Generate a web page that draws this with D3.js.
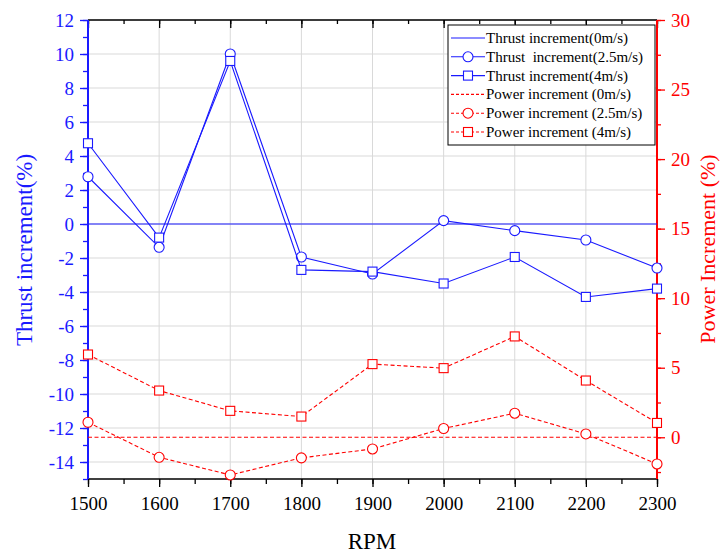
<!DOCTYPE html>
<html><head><meta charset="utf-8">
<script src="https://cdn.jsdelivr.net/npm/d3@7"></script>
<style>body{margin:0;background:#fff}svg{display:block}svg text{font-family:"Liberation Serif","Times New Roman",serif !important}</style>
</head><body>
<svg id="c" width="721" height="554" font-family="Liberation Serif"></svg>
<script>
const rpm = [1500,1600,1700,1800,1900,2000,2100,2200,2300];
const thrust0 = [0,0,0,0,0,0,0,0,0];
const thrust25 = [2.78,-1.37,10.0,-1.94,-2.94,0.2,-0.39,-0.94,-2.59];
const thrust4 = [4.75,-0.8,9.59,-2.7,-2.8,-3.5,-1.94,-4.29,-3.8];
const power0 = [0,0,0,0,0,0,0,0,0];
const power25 = [1.08,-1.44,-2.71,-1.48,-0.84,0.63,1.73,0.24,-1.92];
const power4 = [5.95,3.36,1.9,1.49,5.26,4.97,7.25,4.08,1.03];
const xTicks = [1500,1600,1700,1800,1900,2000,2100,2200,2300];
const yLTicks = [-14,-12,-10,-8,-6,-4,-2,0,2,4,6,8,10,12];
const yRTicks = [0,5,10,15,20,25,30];
const legendLabels = ["Thrust increment(0m/s)","Thrust  increment(2.5m/s)","Thrust increment(4m/s)","Power increment (0m/s)","Power increment (2.5m/s)","Power increment (4m/s)"];

const BLUE="#1a1aff", RED="#ff0000";
const FONT='"Liberation Serif","Times New Roman",serif';
const L=88, R=657, T=20, B=479;
const svg=d3.select("#c");
const x=d3.scaleLinear().domain([1500,2300]).range([L,R]);
const yL=d3.scaleLinear().domain([-15,12]).range([B,T]);
const yR=d3.scaleLinear().domain([-3,30]).range([B,T]);
const fmt=d=>String(d);

// grid
const g=svg.append("g");
g.selectAll(".vg").data(xTicks.slice(1,-1)).enter().append("line")
 .attr("x1",d=>x(d)).attr("x2",d=>x(d)).attr("y1",T).attr("y2",B)
 .attr("stroke","#d9d9d9").attr("stroke-width",1);
g.selectAll(".hg").data(yLTicks).enter().append("line")
 .attr("x1",L).attr("x2",R).attr("y1",d=>yL(d)).attr("y2",d=>yL(d))
 .attr("stroke","#d9d9d9").attr("stroke-width",1);

function styleAxis(sel,color,labels){
 sel.attr("font-family",FONT);
 sel.selectAll("line").attr("stroke",color).attr("stroke-width",1.3);
 if(labels) sel.selectAll("text").attr("font-size",19).attr("fill",color).style("font-family",FONT);
}

// axes
const minorX=d3.range(1500,2301,50);
const axBottom=svg.append("g").attr("transform",`translate(0,${B})`)
 .call(d3.axisBottom(x).tickValues(minorX).tickSize(5).tickFormat(""));
axBottom.select(".domain").remove();
styleAxis(axBottom,"#000",false);
const axBottomMaj=svg.append("g").attr("transform",`translate(0,${B})`)
 .call(d3.axisBottom(x).tickValues(xTicks).tickSize(8).tickPadding(10).tickFormat(fmt));
axBottomMaj.select(".domain").attr("stroke","#000").attr("stroke-width",1.5).attr("d",`M${L},0H${R}`);
styleAxis(axBottomMaj,"#000",true);

const axTop=svg.append("g").attr("transform",`translate(0,${T})`)
 .call(d3.axisBottom(x).tickValues(minorX).tickSize(4).tickFormat(""));
axTop.select(".domain").remove();
styleAxis(axTop,"#000",false);
const axTopMaj=svg.append("g").attr("transform",`translate(0,${T})`)
 .call(d3.axisBottom(x).tickValues(xTicks).tickSize(8).tickFormat(""));
axTopMaj.select(".domain").attr("stroke","#000").attr("stroke-width",1.5).attr("d",`M${L},0H${R}`);
styleAxis(axTopMaj,"#000",false);

const minorL=d3.range(-15,12.1,1);
const axLeft=svg.append("g").attr("transform",`translate(${L},0)`)
 .call(d3.axisLeft(yL).tickValues(minorL).tickSize(5).tickFormat(""));
axLeft.select(".domain").remove();
styleAxis(axLeft,BLUE,false);
const axLeftMaj=svg.append("g").attr("transform",`translate(${L},0)`)
 .call(d3.axisLeft(yL).tickValues(yLTicks).tickSize(8).tickPadding(6).tickFormat(fmt));
axLeftMaj.select(".domain").attr("stroke",BLUE).attr("stroke-width",2).attr("d",`M0,${T}V${B}`);
styleAxis(axLeftMaj,BLUE,true);

const minorR=d3.range(-2.5,30.1,2.5);
const axRight=svg.append("g").attr("transform",`translate(${R},0)`)
 .call(d3.axisRight(yR).tickValues(minorR).tickSize(4).tickFormat(""));
axRight.select(".domain").remove();
styleAxis(axRight,RED,false);
const axRightMaj=svg.append("g").attr("transform",`translate(${R},0)`)
 .call(d3.axisRight(yR).tickValues(yRTicks).tickSize(8).tickPadding(6).tickFormat(fmt));
axRightMaj.select(".domain").attr("stroke",RED).attr("stroke-width",2).attr("d",`M0,${T}V${B}`);
styleAxis(axRightMaj,RED,true);

// series
const series=[
 {v:thrust0,y:yL,c:BLUE,dash:null,m:null},
 {v:thrust25,y:yL,c:BLUE,dash:null,m:"circle"},
 {v:thrust4,y:yL,c:BLUE,dash:null,m:"square"},
 {v:power0,y:yR,c:RED,dash:"4,2.5",m:null},
 {v:power25,y:yR,c:RED,dash:"4,2.5",m:"circle"},
 {v:power4,y:yR,c:RED,dash:"4,2.5",m:"square"}
];
function marker(sel,m,c){
 if(m==="circle") sel.append("circle").attr("r",5).attr("fill","#fff").attr("stroke",c).attr("stroke-width",1.1);
 else if(m==="square") sel.append("rect").attr("x",-4.5).attr("y",-4.5).attr("width",9).attr("height",9).attr("fill","#fff").attr("stroke",c).attr("stroke-width",1.1);
}
series.forEach(s=>{
 const line=d3.line().x((d,i)=>x(rpm[i])).y(d=>s.y(d));
 svg.append("path").datum(s.v).attr("d",line).attr("fill","none").attr("stroke",s.c)
  .attr("stroke-width",1.1).attr("stroke-dasharray",s.dash);
 if(s.m){
  s.v.forEach((d,i)=>{
   const gg=svg.append("g").attr("transform",`translate(${x(rpm[i])},${s.y(d)})`);
   marker(gg,s.m,s.c);
  });
 }
});

// legend
const lg=svg.append("g");
lg.append("rect").attr("x",448).attr("y",25).attr("width",207).attr("height",120)
 .attr("fill","#fff").attr("stroke","#000").attr("stroke-width",1);
legendLabels.forEach((t,i)=>{
 const cy=38+i*18.8, s=series[i];
 lg.append("line").attr("x1",451).attr("x2",485).attr("y1",cy).attr("y2",cy)
  .attr("stroke",s.c).attr("stroke-width",1.1).attr("stroke-dasharray",s.dash?"3,2":null);
 const mg=lg.append("g").attr("transform",`translate(468,${cy})`);
 marker(mg,s.m,s.c);
 lg.append("text").attr("x",486).attr("y",cy+5).attr("font-size",15).attr("fill","#000")
  .attr("xml:space","preserve").style("white-space","pre").style("font-family",FONT).text(t);
});

// titles
svg.append("text").attr("transform","translate(32,250) rotate(-90)").attr("text-anchor","middle")
 .attr("font-size",23).attr("fill",BLUE).style("font-family",FONT).text("Thrust increment(%)");
svg.append("text").attr("transform","translate(715,249) rotate(-90)").attr("text-anchor","middle")
 .attr("font-size",22).attr("fill",RED).style("font-family",FONT).text("Power Increment (%)");
svg.append("text").attr("x",372).attr("y",549).attr("text-anchor","middle")
 .attr("font-size",23).attr("fill","#000").style("font-family",FONT).text("RPM");
</script>
</body></html>
